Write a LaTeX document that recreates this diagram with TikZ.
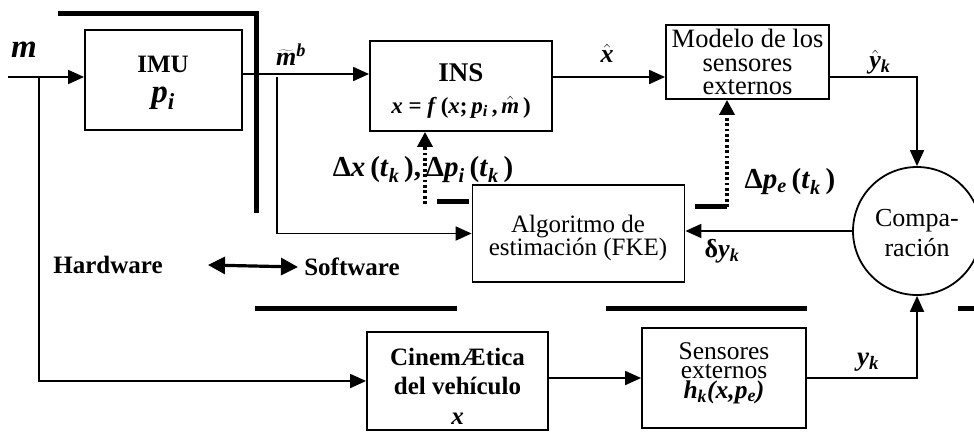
\documentclass[tikz,border=0pt]{standalone}
\usepackage{fontspec}
\setmainfont{Liberation Serif}
\usetikzlibrary{arrows.meta}
\begin{document}
\begin{tikzpicture}[x=1pt,y=-1pt,
  blk/.style={draw, line width=1.8pt, rectangle, inner sep=0pt, align=center},
  conn/.style={line width=1.8pt},
  arr/.style={conn, -{Triangle[length=16pt,width=14pt]}},
  dotarr/.style={line width=3.4pt, dash pattern=on 2.8pt off 2.6pt, -{Triangle[length=15pt,width=15pt]}},
  sep/.style={line width=5pt},
  lbl/.style={inner sep=0pt, align=center},
]
\useasboundingbox (0,0) rectangle (974,434);

% separator (thick) lines
\draw[sep] (58,13) -- (256,13) -- (256,213);
\draw[sep] (255,308) -- (457,308);
\draw[sep] (606,308) -- (807,308);
\draw[sep] (958,308) -- (980,308);
\draw[sep] (437,201) -- (469,201);
\draw[sep] (695,206) -- (727,206);

% blocks
\node[blk, minimum width=157pt, minimum height=100pt] (IMU) at (163.5,80) {};
\node[lbl, font=\fontsize{25}{25}\selectfont\bfseries] (IMUa) at (163,64) {IMU};
\node[lbl, font=\fontsize{33}{33}\selectfont\bfseries\itshape] (IMUb) at (163,98) {p\textsubscript{i}};

\node[blk, minimum width=182pt, minimum height=90pt] (INS) at (461,86) {};
\node[lbl, font=\fontsize{27}{27}\selectfont\bfseries] (INSa) at (461,73) {INS};
\node[lbl, font=\fontsize{23}{23}\selectfont\bfseries] (INSb) at (461,107)
  {\textit{x} = \textit{f}\,(\textit{x};\,\textit{p}\textsubscript{\textit{i}}\,,\,$\hat{\textbf{\textit{m}}}$\,)};

\node[blk, minimum width=163pt, minimum height=74pt, font=\fontsize{26.5}{23.5}\selectfont] (Mod) at (747.5,62)
  {Modelo de los\\sensores\\externos};

\node[blk, minimum width=212pt, minimum height=97pt] (Alg) at (578.5,233.5) {};
\node[lbl, font=\fontsize{25}{22}\selectfont] (Algt) at (578,238)
  {Algoritmo de\\estimación (FKE)};

\node[draw, circle, line width=1.8pt, minimum size=128pt, inner sep=0pt] (C) at (917,231) {};
\node[lbl, font=\fontsize{26}{30}\selectfont] (Ct) at (917,233) {Compa-\\ración};

\node[blk, minimum width=181pt, minimum height=98pt] (Cin) at (457.5,381) {};
\node[lbl, font=\fontsize{25}{29.5}\selectfont\bfseries] (Cint) at (457.5,386)
  {CinemÆtica\\del vehículo\\\textit{x}};

\node[blk, minimum width=164pt, minimum height=100pt] (Sen) at (724,378) {};
\node[lbl, font=\fontsize{25.5}{19.5}\selectfont] (Sent) at (724,373)
  {Sensores\\externos\\\textbf{\textit{h}\textsubscript{\textit{k}}\textit{(x,p}\textsubscript{\textit{e}}\textit{)}}};

% coordinates
\coordinate (min) at (8,77);
\coordinate (br1) at (39,77);
\coordinate (r1) at (0,74);
\coordinate (r2) at (0,77);
\coordinate (br2) at (277,74);
\coordinate (d1) at (425,204);
\coordinate (d2) at (727,207);

% connectors
\draw[arr] (min) -- (min -| IMU.west);
\draw[conn] (br1) |- ([xshift=-14pt]Cin.west);
\draw[arr] ([xshift=-16pt]Cin.west) -- (Cin.west);
\draw[arr] (IMU.east |- r1) -- (INS.west |- r1);
\draw[arr] ([yshift=-3pt]br2) |- (Alg.west);
\draw[arr] (INS.east |- r2) -- (Mod.west |- r2);
\draw[arr] (Mod.east |- r2) -| (C.north);
\draw[arr] (C.west) -- (C.west -| Alg.east);
\draw[arr] (Cin.east |- Sen.west) -- (Sen.west);
\draw[arr] (Sen.east) -| (C.south);
\draw[dotarr] (d1) -- (d1 |- INS.south);
\draw[dotarr] (d2) -- (d2 |- Mod.south);

% labels
\node[lbl, font=\fontsize{33}{33}\selectfont\bfseries\itshape] (lm) at (24,50) {m};
\node[lbl, font=\fontsize{26}{26}\selectfont\bfseries\itshape] (lmt) at (291,55)
  {$\widetilde{\textbf{\textit{m}}}$\textsuperscript{b}};
\node[lbl, font=\fontsize{26}{26}\selectfont\bfseries\itshape] (lx) at (607,53) {$\hat{\textbf{\textit{x}}}$};
\node[lbl, font=\fontsize{26}{26}\selectfont\bfseries\itshape] (ly) at (880,62)
  {$\hat{\textbf{\textit{y}}}$\textsubscript{k}};
\node[lbl, font=\fontsize{29}{29}\selectfont\bfseries] (ldx) at (423,170)
  {Δ\textit{x}\,(\textit{t}\textsubscript{\textit{k}}\,),\,Δ\textit{p}\textsubscript{\textit{i}}\,(\textit{t}\textsubscript{\textit{k}}\,)};
\node[lbl, font=\fontsize{29}{29}\selectfont\bfseries] (ldp) at (790,182)
  {Δ\textit{p}\textsubscript{\textit{e}}\,(\textit{t}\textsubscript{\textit{k}}\,)};
\node[lbl, font=\fontsize{26}{26}\selectfont\bfseries] (ldy) at (722,251)
  {δ\textit{y}\textsubscript{\textit{k}}};
\node[lbl, font=\fontsize{27}{27}\selectfont\bfseries\itshape] (lyk) at (868,362)
  {y\textsubscript{k}};
\node[lbl, font=\fontsize{25}{25}\selectfont\bfseries] (hw) at (108,265) {Hardware};
\node[lbl, font=\fontsize{25}{25}\selectfont\bfseries] (sw) at (352,267) {Software};
\draw[line width=3.2pt, {Triangle[length=17pt,width=17pt]}-{Triangle[length=17pt,width=17pt]}] (hw.east -| 208,0) -- (sw.west -| 298,0);
\end{tikzpicture}
\end{document}
